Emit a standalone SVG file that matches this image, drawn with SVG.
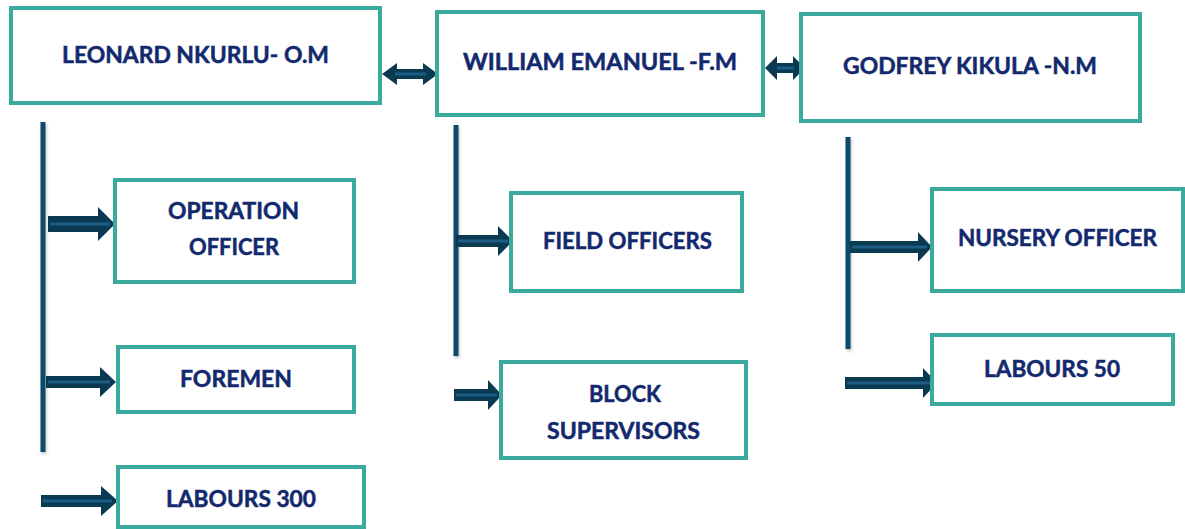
<svg xmlns="http://www.w3.org/2000/svg" width="1185" height="529" viewBox="0 0 1185 529">
<defs>
<style>
.box{fill:#fff;stroke:#3AAA9F;stroke-width:4;}
.t{font-family:Lato,"Open Sans",sans-serif;font-weight:bold;font-size:22px;fill:#13296E;stroke:#13296E;stroke-width:0.5;}
.vl{fill:#0D4A6B;}
.ar{fill:#0A3A52;}
.ai{stroke:#1D5C83;stroke-width:3;}
</style>
<filter id="sh" filterUnits="userSpaceOnUse" x="0" y="0" width="1185" height="529"><feDropShadow dx="1" dy="2" stdDeviation="1.5" flood-color="#000" flood-opacity="0.25"/></filter>
</defs>
<g id="connectors">
<rect class="vl" x="40.5" y="122" width="5" height="330" filter="url(#sh)"/>
<rect class="vl" x="453.5" y="125" width="5" height="231" filter="url(#sh)"/>
<rect class="vl" x="845.5" y="137" width="5" height="212" filter="url(#sh)"/>
<!-- double arrows -->
<polygon class="ar" points="382,74 397,63 397,69 423,69 423,63 438,74 423,85 423,79 397,79 397,85"/>
<line class="ai" x1="395" y1="74" x2="426" y2="74" stroke-width="2"/>
<polygon class="ar" points="765,68 777,56 777,63 793,63 793,56 805,68 793,80 793,73 777,73 777,80"/>
<line class="ai" x1="777" y1="68" x2="794" y2="68" stroke-width="2"/>
<!-- right arrows -->
<polygon class="ar" points="48,216 98,216 98,207 115,224 98,241 98,232 48,232"/>
<line class="ai" x1="50" y1="224" x2="110" y2="224"/>
<polygon class="ar" points="46,376 100,376 100,367 116,382 100,397 100,388 46,388"/>
<line class="ai" x1="48" y1="382" x2="110" y2="382"/>
<polygon class="ar" points="41,495 101,495 101,486 118,501 101,516 101,507 41,507"/>
<line class="ai" x1="43" y1="501" x2="112" y2="501"/>
<polygon class="ar" points="456,235 498,235 498,226 513,241 498,256 498,247 456,247"/>
<line class="ai" x1="458" y1="241" x2="508" y2="241"/>
<polygon class="ar" points="454,389 488,389 488,380 502,395 488,410 488,401 454,401"/>
<line class="ai" x1="456" y1="395" x2="497" y2="395"/>
<polygon class="ar" points="850,241 918,241 918,232 932,247 918,262 918,253 850,253"/>
<line class="ai" x1="852" y1="247" x2="927" y2="247"/>
<polygon class="ar" points="845,377 923,377 923,368 937,383 923,398 923,389 845,389"/>
<line class="ai" x1="847" y1="383" x2="932" y2="383"/>
</g>
<g id="n1"><rect class="box" x="11" y="8" width="369" height="95"/><text class="t" x="62" y="63" textLength="267" lengthAdjust="spacingAndGlyphs">LEONARD NKURLU- O.M</text></g>
<g id="n2"><rect class="box" x="437" y="12" width="326" height="103"/><text class="t" x="463" y="70" textLength="274" lengthAdjust="spacingAndGlyphs">WILLIAM EMANUEL -F.M</text></g>
<g id="n3"><rect class="box" x="801" y="14" width="339" height="107"/><text class="t" x="843" y="74" textLength="254" lengthAdjust="spacingAndGlyphs">GODFREY KIKULA -N.M</text></g>
<g id="n4"><rect class="box" x="115" y="180" width="239" height="102"/><text class="t" x="168" y="219" textLength="131" lengthAdjust="spacingAndGlyphs">OPERATION</text><text class="t" x="189" y="255" textLength="90" lengthAdjust="spacingAndGlyphs">OFFICER</text></g>
<g id="n5"><rect class="box" x="118" y="347" width="236" height="65"/><text class="t" x="180" y="387" textLength="112" lengthAdjust="spacingAndGlyphs">FOREMEN</text></g>
<g id="n6"><rect class="box" x="118" y="467" width="246" height="60"/><text class="t" x="166" y="507" textLength="150" lengthAdjust="spacingAndGlyphs">LABOURS 300</text></g>
<g id="n7"><rect class="box" x="511" y="193" width="231" height="98"/><text class="t" x="543" y="249" textLength="169" lengthAdjust="spacingAndGlyphs">FIELD OFFICERS</text></g>
<g id="n8"><rect class="box" x="501" y="362" width="245" height="96"/><text class="t" x="589" y="402" textLength="72" lengthAdjust="spacingAndGlyphs">BLOCK</text><text class="t" x="547" y="439" textLength="153" lengthAdjust="spacingAndGlyphs">SUPERVISORS</text></g>
<g id="n9"><rect class="box" x="932" y="189" width="251" height="102"/><text class="t" x="958" y="246" textLength="199" lengthAdjust="spacingAndGlyphs">NURSERY OFFICER</text></g>
<g id="n10"><rect class="box" x="932" y="335" width="241" height="69"/><text class="t" x="984" y="377" textLength="136" lengthAdjust="spacingAndGlyphs">LABOURS 50</text></g>
</svg>
